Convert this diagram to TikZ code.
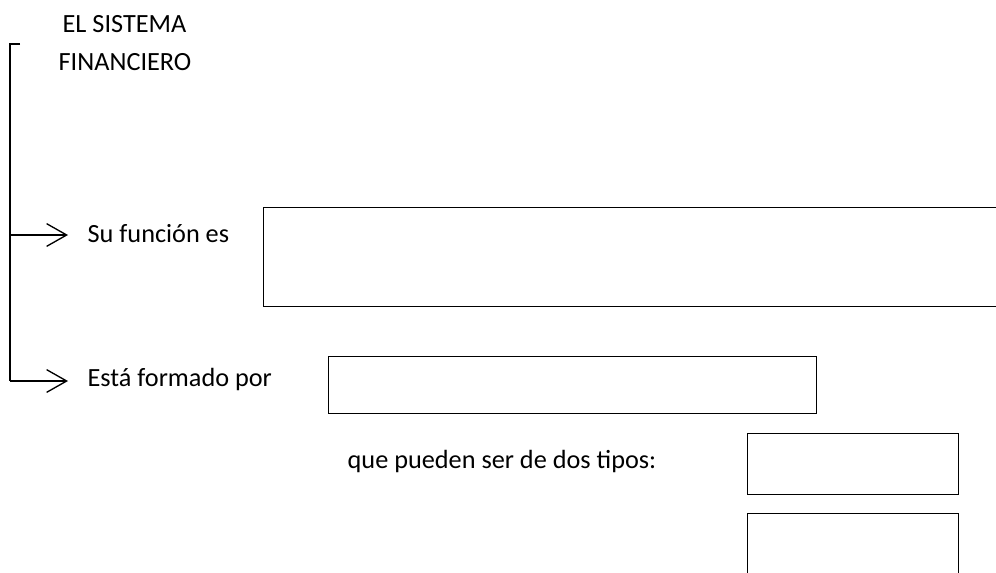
\documentclass[tikz,border=0pt]{standalone}
\usepackage{fontspec}
\setmainfont{Carlito}
\usetikzlibrary{arrows.meta}
\begin{document}
\begin{tikzpicture}[x=0.75pt,y=-0.75pt,
  line width=1pt,
  lbl/.style={inner sep=0pt,anchor=base west,font=\fontsize{19.7}{24}\selectfont},
  box/.style={draw,line width=1.1pt,anchor=north west,inner sep=0pt},
  arr/.style={-{Straight Barb[length=15pt,width=17pt,line width=1pt]}}]
\useasboundingbox (0,0) rectangle (996,572);
\clip (0,0) rectangle (996,572);
% title
\node[lbl,anchor=base] (t1) at (124.5,32) {EL SISTEMA};
\node[lbl,anchor=base] (t2) at (125,70) {FINANCIERO};
% labels
\node[lbl] (su) at (87,242) {Su función es};
\node[lbl] (esta) at (87,386) {Está formado por};
\node[lbl] (que) at (347,468) {que pueden ser de dos tipos:};
% boxes
\node[box,minimum width=570pt,minimum height=74pt] (b1) at (263,207) {};
\node[box,minimum width=366pt,minimum height=42.75pt] (b2) at (328,356) {};
\node[box,minimum width=158.25pt,minimum height=45.75pt] (b3) at (747,433) {};
\node[box,minimum width=158.25pt,minimum height=67pt] (b4) at (747,513) {};
% bracket
\coordinate (top) at (20,44);
\coordinate (c1) at (10,44);
\coordinate (j1) at (10,235);
\coordinate (j2) at (10,381);
\coordinate (a1) at (68,235);
\coordinate (a2) at (68,381);
\draw (top) -- (c1) -- (j2);
\draw[arr] (j1) -- (a1);
\draw[arr] (j2) -- (a2);
\end{tikzpicture}
\end{document}
